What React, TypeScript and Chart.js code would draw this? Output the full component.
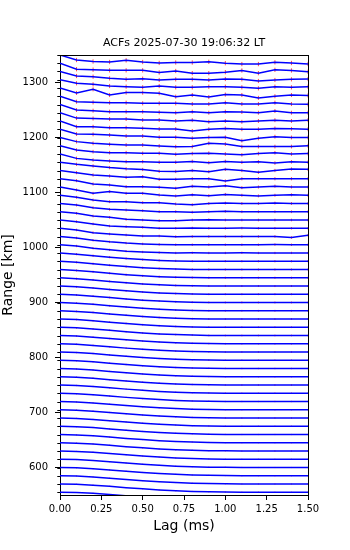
import { useEffect, useRef } from 'react';
import { Chart, registerables } from 'chart.js';

Chart.register(...registerables);

const titleText = 'ACFs 2025-07-30 19:06:32 LT';
const xLabel = 'Lag (ms)';
const yLabel = 'Range [km]';

const lags = [0, 0.1, 0.2, 0.3, 0.4, 0.5, 0.6, 0.7, 0.8, 0.9, 1.0, 1.1, 1.2, 1.3, 1.4, 1.5];
const xTicks = [0, 0.25, 0.5, 0.75, 1.0, 1.25, 1.5];
const yTicks = [600, 700, 800, 900, 1000, 1100, 1200, 1300];
const yMin = 550;
const yMax = 1350;
const gateStep = 15; // km between gates = height of a normalized ACF

// range gates, ascending (km)
const gates = [
  555, 570, 585, 600, 615, 630, 645, 660, 675, 690, 705, 720, 735, 750, 765, 780, 795, 810,
  825, 840, 855, 870, 885, 900, 915, 930, 945, 960, 975, 990, 1005, 1020, 1035, 1050, 1065,
  1080, 1095, 1110, 1125, 1140, 1155, 1170, 1185, 1200, 1215, 1230, 1245, 1260, 1275, 1290,
  1305, 1320, 1335, 1350,
];

// normalized ACFs, 555 .. 990 km
const acfLow = [
  [1, 0.97, 0.87, 0.73, 0.57, 0.42, 0.29, 0.18, 0.11, 0.06, 0.03, 0.01, 0, 0, 0, 0],
  [1, 0.96, 0.86, 0.72, 0.56, 0.41, 0.28, 0.18, 0.1, 0.05, 0.02, 0.01, 0.01, 0, 0, 0],
  [1, 0.96, 0.86, 0.71, 0.55, 0.4, 0.27, 0.17, 0.1, 0.05, 0.02, 0.01, 0, 0, 0, 0],
  [1, 0.96, 0.85, 0.71, 0.55, 0.4, 0.27, 0.17, 0.09, 0.05, 0.02, 0, 0, 0, 0, 0],
  [1, 0.96, 0.85, 0.7, 0.54, 0.39, 0.26, 0.16, 0.09, 0.04, 0.02, 0.01, 0, 0, 0, 0],
  [1, 0.95, 0.85, 0.7, 0.54, 0.39, 0.26, 0.16, 0.09, 0.04, 0.01, 0, 0, 0, 0, 0],
  [1, 0.95, 0.84, 0.69, 0.53, 0.38, 0.25, 0.15, 0.08, 0.04, 0.02, 0, 0, 0, 0, 0],
  [1, 0.95, 0.84, 0.69, 0.53, 0.38, 0.25, 0.15, 0.08, 0.04, 0.01, 0, 0, 0, 0, 0],
  [1, 0.95, 0.84, 0.68, 0.52, 0.37, 0.24, 0.15, 0.08, 0.03, 0.01, 0, 0, 0, 0, 0],
  [1, 0.95, 0.83, 0.68, 0.52, 0.37, 0.24, 0.14, 0.07, 0.03, 0.01, 0, 0, 0, 0, 0],
  [1, 0.95, 0.83, 0.67, 0.51, 0.36, 0.23, 0.14, 0.07, 0.03, 0.01, 0, 0, 0, 0, 0],
  [1, 0.94, 0.83, 0.67, 0.51, 0.36, 0.23, 0.14, 0.07, 0.03, 0.01, 0, 0, 0, 0, 0],
  [1, 0.94, 0.82, 0.66, 0.5, 0.35, 0.23, 0.13, 0.07, 0.03, 0, 0, 0, 0, 0, 0],
  [1, 0.94, 0.82, 0.66, 0.5, 0.35, 0.22, 0.13, 0.06, 0.03, 0.01, 0, 0, 0, 0, 0],
  [1, 0.94, 0.82, 0.65, 0.49, 0.34, 0.22, 0.13, 0.06, 0.02, 0.01, 0, 0, 0, 0, 0],
  [1, 0.94, 0.81, 0.65, 0.49, 0.34, 0.21, 0.12, 0.06, 0.02, 0, 0, 0, 0, 0, 0],
  [1, 0.94, 0.81, 0.64, 0.48, 0.33, 0.21, 0.12, 0.06, 0.02, 0.01, 0, 0, 0, 0, 0],
  [1, 0.93, 0.81, 0.64, 0.48, 0.33, 0.21, 0.12, 0.05, 0.02, 0, 0, 0, 0, 0, 0],
  [1, 0.93, 0.8, 0.64, 0.47, 0.32, 0.2, 0.11, 0.05, 0.02, 0, 0, 0, 0, 0, 0],
  [1, 0.93, 0.8, 0.63, 0.47, 0.32, 0.2, 0.11, 0.05, 0.02, 0.01, 0, 0, 0, 0, 0],
  [1, 0.93, 0.8, 0.63, 0.46, 0.31, 0.19, 0.11, 0.05, 0.01, 0, 0, 0, 0, 0, 0],
  [1, 0.93, 0.79, 0.62, 0.46, 0.31, 0.19, 0.1, 0.04, 0.01, 0, 0, 0, 0, 0, 0],
  [1, 0.92, 0.79, 0.62, 0.45, 0.3, 0.18, 0.1, 0.04, 0.01, 0, 0, 0, 0, 0, 0],
  [1, 0.92, 0.78, 0.61, 0.44, 0.29, 0.17, 0.09, 0.04, 0.01, 0, 0, 0, 0, 0, 0],
  [1, 0.91, 0.77, 0.6, 0.43, 0.28, 0.17, 0.09, 0.03, 0.01, 0, 0.01, 0, 0, 0, 0],
  [1, 0.9, 0.76, 0.58, 0.41, 0.27, 0.16, 0.08, 0.03, 0, 0, 0, 0, 0, 0, 0],
  [1, 0.89, 0.74, 0.56, 0.39, 0.25, 0.14, 0.07, 0.02, 0, 0.01, 0, 0, -0.01, 0, 0],
  [1, 0.88, 0.72, 0.54, 0.37, 0.23, 0.13, 0.06, 0.02, 0, 0, 0, 0, 0, 0, 0],
  [1, 0.87, 0.7, 0.52, 0.35, 0.22, 0.12, 0.05, 0.01, 0, 0, 0, 0, 0, 0, 0],
  [1, 0.86, 0.67, 0.49, 0.33, 0.2, 0.1, 0.04, 0.01, 0, 0.01, 0, 0, 0, 0, 0],
];

// normalized ACFs, 1005 .. 1155 km
const acfMid = [
  [1, 0.85, 0.58, 0.38, 0.22, 0.12, 0.05, 0, 0.02, 0, 0, 0.02, 0, 0, 0.01, 0],
  [1, 0.82, 0.55, 0.35, 0.2, 0.1, 0.04, 0, 0, 0.01, 0, 0, 0, 0.02, 0, 0],
  [1, 0.79, 0.46, 0.3, 0.18, 0.06, 0.06, -0.02, 0, 0, 0, 0, 0, 0, -0.12, 0.15],
  [1, 0.8, 0.52, 0.27, 0.19, 0.11, 0, 0, 0.03, 0, 0, 0.02, 0, 0, 0, 0],
  [1, 0.81, 0.48, 0.32, 0.08, 0, -0.08, -0.08, 0, 0.03, 0, 0, 0, 0, 0, 0],
  [1, 0.81, 0.49, 0.29, 0.21, 0.13, 0.01, 0.01, -0.05, 0, 0.05, 0, 0, 0, 0, 0],
  [1, 0.75, 0.42, 0.22, 0.22, 0.1, 0.1, -0.06, -0.15, 0, 0.05, 0, 0, 0.05, 0, 0],
  [1, 0.64, 0.23, 0.44, 0.23, 0.23, 0.03, -0.09, 0.05, -0.05, 0.1, 0, -0.08, 0, 0.05, 0],
  [1, 0.77, 0.36, 0.24, 0.04, 0.04, -0.04, -0.16, 0.1, 0, 0.16, -0.08, 0, 0.1, 0, 0],
  [1, 0.74, 0.45, 0.33, 0.17, 0.25, -0.07, -0.07, 0, 0, -0.27, 0, 0, 0, 0, 0],
  [1, 0.75, 0.55, 0.35, 0.2, 0.12, -0.1, -0.12, 0, -0.14, 0.14, 0, -0.22, 0, 0.18, 0.14],
];

// normalized ACFs, 1170 .. 1350 km
const acfHigh = [
  [1, 0.47, 0.27, 0.15, 0.07, 0.07, 0, 0, 0.1, -0.05, 0.1, 0, 0.05, -0.1, 0.05, 0],
  [1, 0.48, 0.28, 0.16, 0.16, 0.08, 0.08, -0.04, 0.05, 0.1, 0, -0.1, 0.05, 0.15, 0, 0.05],
  [1, 0.5, 0.29, 0.17, 0.09, 0.09, -0.03, -0.11, -0.1, 0.3, 0.2, -0.1, -0.1, -0.1, -0.1, 0],
  [1, 0.42, 0.38, 0.3, 0.18, 0.18, 0.02, 0.02, -0.1, 0, 0.02, -0.38, -0.1, 0.1, 0, 0],
  [1, 0.31, 0.31, 0.19, 0.19, 0.11, 0.03, 0.03, -0.2, 0, 0.1, 0, 0, 0.1, 0.05, 0],
  [1, 0.35, 0.3, 0.24, 0.24, 0.12, 0.12, 0, 0.1, -0.1, 0, -0.1, 0, 0.1, 0, 0.1],
  [1, 0.33, 0.25, 0.13, 0.13, 0.13, 0.05, 0, 0.13, 0, 0.13, 0.09, 0, 0.21, 0, 0],
  [1, 0.34, 0.26, 0.22, 0.22, 0.14, 0.14, 0.14, 0.06, 0.06, 0.22, 0.06, 0.06, 0.22, 0.06, 0.02],
  [1, 0.4, 0.84, 0.15, 0.44, 0.44, 0.36, -0.05, 0.15, -0.1, 0.2, 0.15, -0.2, 0, 0.15, 0.1],
  [1, 0.57, 0.44, 0.24, 0.16, 0.08, 0.24, 0.08, 0.08, 0.16, 0.16, 0.08, -0.04, 0.16, 0.08, 0.16],
  [1, 0.45, 0.37, 0.17, 0.05, 0.13, -0.03, 0.05, 0.05, -0.03, 0.09, 0.05, -0.15, -0.03, 0.05, 0.09],
  [1, 0.28, 0.22, 0.14, 0.14, 0.14, -0.12, 0.06, -0.2, -0.2, -0.08, 0.12, -0.2, 0.2, 0.12, -0.04],
  [1, 0.39, 0.21, 0.15, 0.35, 0.15, 0.04, 0.09, 0.09, 0.17, 0.01, -0.1, -0.1, 0.11, 0.03, -0.09],
];

// error-bar half size per gate (km), ascending gates
const errKm = [
  0.9, 1.0, 0.9, 1.0, 1.0, 1.0, 1.1, 1.0, 1.1, 1.1, 1.2, 1.1, 1.2, 1.2, 1.3, 1.2, 1.3, 1.3,
  1.4, 1.4, 1.5, 1.5, 1.6, 1.6, 1.7, 1.7, 1.8, 1.9, 1.9, 2.0, 2.1, 2.2, 2.3, 2.3, 2.4,
  2.5, 2.6, 2.7, 2.8, 2.9, 3.0, 3.2, 3.3, 3.4, 3.5, 3.5, 3.6, 3.6, 3.7, 3.7,
  3.8, 3.8, 3.9, 3.9,
];

const acfRows = [...acfLow, ...acfMid, ...acfHigh];

const FONT = '"DejaVu Sans", sans-serif';

const framePlugin = {
  id: 'frameAndMinor',
  afterDraw(chart: any) {
    const { ctx, chartArea } = chart;
    const ys = chart.scales.y;
    ctx.save();
    ctx.strokeStyle = '#000';
    ctx.lineWidth = 1;
    ctx.beginPath();
    ctx.moveTo(chartArea.left, chartArea.top + 0.5);
    ctx.lineTo(chartArea.right + 0.5, chartArea.top + 0.5);
    ctx.moveTo(chartArea.right + 0.5, chartArea.top);
    ctx.lineTo(chartArea.right + 0.5, chartArea.bottom + 0.5);
    ctx.stroke();
    // minor ticks at each gate
    ctx.beginPath();
    gates.forEach((g) => {
      const py = Math.round(ys.getPixelForValue(g)) + 0.5;
      ctx.moveTo(chartArea.left - 2.7, py);
      ctx.lineTo(chartArea.left, py);
    });
    ctx.stroke();
    // title
    ctx.fillStyle = '#000';
    ctx.font = `11px ${FONT}`;
    ctx.textAlign = 'center';
    ctx.textBaseline = 'middle';
    ctx.fillText(titleText, (chartArea.left + chartArea.right) / 2, chartArea.top - 12);
    ctx.restore();
  },
};

export default function App() {
  const ref = useRef<HTMLCanvasElement | null>(null);

  useEffect(() => {
    if (!ref.current) return;
    const points = gates.map((g, i) =>
      lags.map((l, k) => ({ x: l, y: g - gateStep + gateStep * acfRows[i][k] }))
    );
    const lineSets = gates.map((g, i) => ({
      type: 'line',
      data: points[i],
      borderColor: '#0000ff',
      borderWidth: 1.5,
      pointRadius: 0,
      tension: 0,
      fill: false,
      order: 0,
    }));
    const errSets = gates.map((g, i) => ({
      type: 'line',
      data: points[i],
      showLine: false,
      pointStyle: 'line',
      pointRotation: 90,
      pointBorderColor: 'rgba(255,0,0,0.7)',
      pointBackgroundColor: 'rgba(255,0,0,0.7)',
      pointBorderWidth: 1,
      pointRadius: (c: any) => {
        if (c.dataIndex === 0) return 0;
        const ys = c.chart.scales.y;
        return Math.abs(ys.getPixelForValue(yMin) - ys.getPixelForValue(yMin + errKm[i]));
      },
      order: 1,
    }));

    const chart = new Chart(ref.current, {
      type: 'line',
      data: { datasets: [...lineSets, ...errSets] as any },
      options: {
        animation: false,
        responsive: false,
        events: [],
        layout: { padding: { top: 55, right: 42, left: 0, bottom: 0 } },
        plugins: { legend: { display: false }, tooltip: { enabled: false }, title: { display: false } },
        scales: {
          x: {
            type: 'linear',
            min: 0,
            max: 1.5,
            afterBuildTicks: (s: any) => {
              s.ticks = xTicks.map((v) => ({ value: v }));
            },
            afterFit: (s: any) => {
              s.height = 55;
            },
            ticks: {
              callback: (v: any) => Number(v).toFixed(2),
              font: { family: FONT, size: 10 },
              color: '#000',
              padding: 3,
              maxRotation: 0,
              autoSkip: false,
            },
            grid: { display: true, drawOnChartArea: false, drawTicks: true, tickLength: 5, tickColor: '#000', tickWidth: 1 },
            border: { display: true, color: '#000', width: 1 },
            title: { display: true, text: xLabel, color: '#000', font: { family: FONT, size: 14 }, padding: { top: 0, bottom: 15 } },
          },
          y: {
            type: 'linear',
            min: yMin,
            max: yMax,
            afterBuildTicks: (s: any) => {
              s.ticks = yTicks.map((v) => ({ value: v }));
            },
            afterFit: (s: any) => {
              s.width = 60;
            },
            ticks: {
              callback: (v: any) => String(v),
              font: { family: FONT, size: 10 },
              color: '#000',
              padding: 7,
              autoSkip: false,
            },
            grid: { display: true, drawOnChartArea: false, drawTicks: true, tickLength: 5, tickColor: '#000', tickWidth: 1 },
            border: { display: true, color: '#000', width: 1 },
            title: { display: true, text: yLabel, color: '#000', font: { family: FONT, size: 14 }, padding: { top: 0, bottom: 0 } },
          },
        },
      } as any,
      plugins: [framePlugin],
    });
    return () => chart.destroy();
  }, []);

  return (
    <div style={{ position: 'fixed', left: 0, top: 0, width: 350, height: 550, background: '#fff' }}>
      <canvas ref={ref} width={350} height={550} style={{ display: 'block' }} />
    </div>
  );
}
